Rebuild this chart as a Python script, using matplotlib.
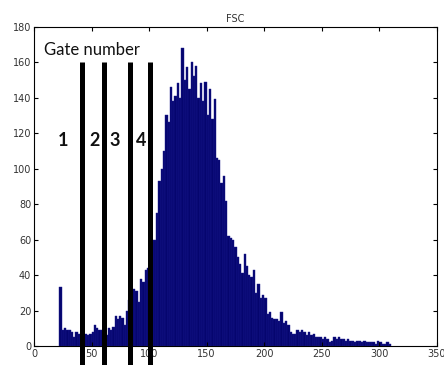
import numpy as np
import matplotlib
matplotlib.use("Agg")
import matplotlib.pyplot as plt

# FSC histogram counts, bins of width 2 starting at 22
bin_start = 22
bin_width = 2
counts = [
    33,
    9, 10, 9, 9, 8, 5, 8, 7, 5,
    7, 7, 6, 7, 8, 12, 10, 9, 9, 8,
    6, 10, 9, 11, 17, 15, 17, 16, 12, 20,
    26, 21, 32, 31, 25, 38, 36, 43, 44, 60,
    60, 60, 75, 93, 100, 110, 130, 126, 146, 138,
    141, 148, 140, 168, 150, 157, 145, 160, 152, 158,
    140, 148, 138, 149, 130, 145, 128, 139, 106, 105,
    92, 96, 82, 62, 61, 60, 56, 50, 46, 41,
    52, 45, 40, 39, 43, 30, 35, 27, 29, 27,
    18, 19, 16, 15, 15, 14, 19, 13, 14, 12,
    8, 7, 7, 9, 8, 9, 8, 6, 8, 6,
    7, 5, 5, 5, 4, 5, 4, 2, 3, 5,
    4, 5, 4, 4, 3, 4, 3, 3, 2, 3,
    3, 2, 3, 2, 2, 2, 2, 1, 3, 2,
    1, 1, 2, 1,
]

# gate boundaries and labels
gates = [41.5, 61, 83, 101]
gate_labels = ["1", "2", "3", "4"]
gate_label_x = [25, 53, 70, 93.5]

edges = bin_start + bin_width * np.arange(len(counts) + 1)

fig = plt.figure(figsize=(4.44, 3.65), dpi=100)
ax = fig.add_axes([0.0766, 0.052, 0.9074, 0.875])

ax.bar(edges[:-1], counts, width=bin_width, align="edge",
       color="#05056e", edgecolor="#1c1c90", linewidth=0.3)

for g in gates:
    ax.plot([g, g], [160, -11], color="black", lw=3.6, clip_on=False,
            solid_capstyle="butt", zorder=5)

for lbl, x in zip(gate_labels, gate_label_x):
    ax.text(x, 116, lbl, fontsize=13, fontweight="bold", family="Lato",
            ha="center", va="center", color="#111111")
ax.text(9, 167, "Gate number", fontsize=12, family="Lato",
        ha="left", va="center", color="#111111")

ax.set_xlim(0, 350)
ax.set_ylim(0, 180)
ax.set_xticks(np.arange(0, 351, 50))
ax.set_yticks(np.arange(0, 181, 20))
ax.tick_params(direction="in", top=True, right=True, labelsize=7,
               length=3, labelcolor="#333333", pad=2)
ax.set_title("FSC", fontsize=7, pad=3, color="#333333")

fig.savefig("out.png", dpi=100)
